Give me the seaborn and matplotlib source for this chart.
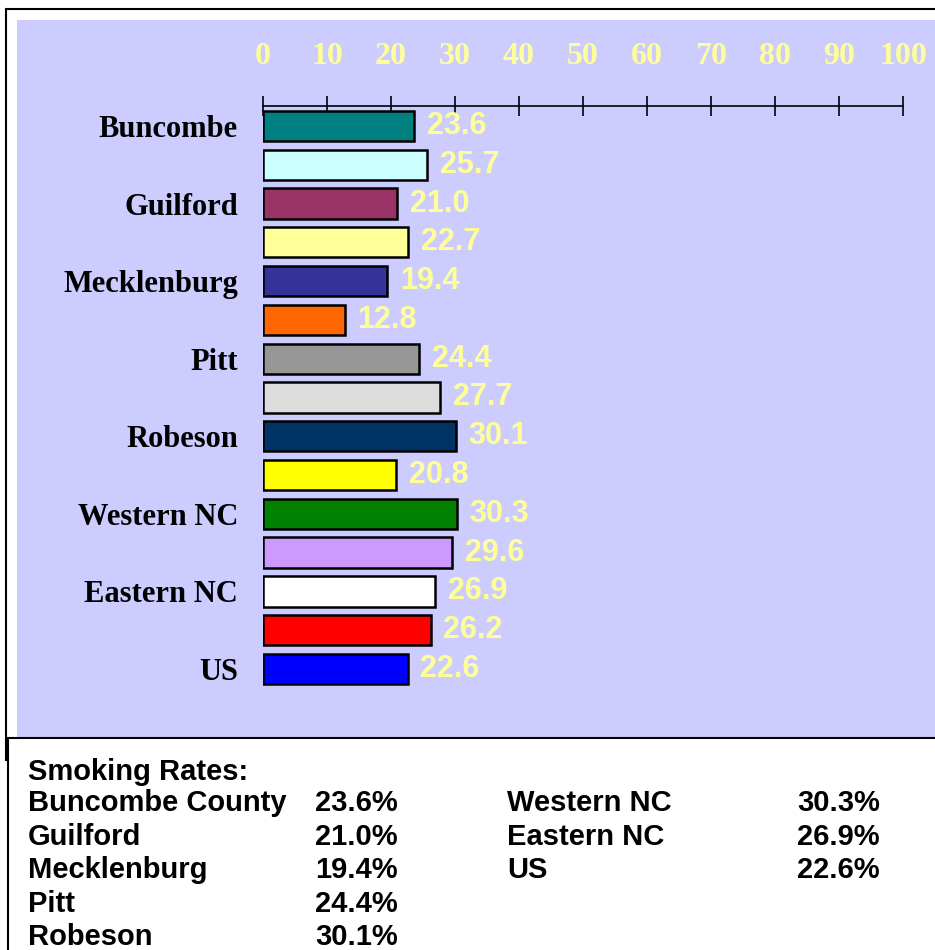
import matplotlib
matplotlib.use("Agg")
import matplotlib.pyplot as plt
import seaborn as sns
from matplotlib.patches import Rectangle

# bar data (top to bottom)
bar_ids = ['b01', 'b02', 'b03', 'b04', 'b05', 'b06', 'b07', 'b08',
           'b09', 'b10', 'b11', 'b12', 'b13', 'b14', 'b15']
rates = [23.6, 25.7, 21.0, 22.7, 19.4, 12.8, 24.4, 27.7,
         30.1, 20.8, 30.3, 29.6, 26.9, 26.2, 22.6]
tick_labels = ['Buncombe', '', 'Guilford', '', 'Mecklenburg', '', 'Pitt', '',
               'Robeson', '', 'Western NC', '', 'Eastern NC', '', 'US']
bar_colors = ['#008080', '#CCFFFF', '#993366', '#FFFF99', '#333399', '#FF6600',
              '#969696', '#DDDDDD', '#003366', '#FFFF00', '#008000', '#CC99FF',
              '#FFFFFF', '#FF0000', '#0000FF']
x_ticks = [0, 10, 20, 30, 40, 50, 60, 70, 80, 90, 100]

# summary table below the chart
left_names = ['Buncombe County', 'Guilford', 'Mecklenburg', 'Pitt', 'Robeson']
left_vals = ['23.6%', '21.0%', '19.4%', '24.4%', '30.1%']
right_names = ['Western NC', 'Eastern NC', 'US']
right_vals = ['30.3%', '26.9%', '22.6%']

sns.set_style('white')
plt.rcParams['font.family'] = ['Liberation Sans', 'DejaVu Sans']

W, H = 935, 950
fig = plt.figure(figsize=(W / 100, H / 100), dpi=100)
fig.patch.set_facecolor('white')

def px_rect(x0, y0, x1, y1, **kw):
    r = Rectangle((x0 / W, 1 - y1 / H), (x1 - x0) / W, (y1 - y0) / H,
                  transform=fig.transFigure, **kw)
    fig.patches.append(r)

# outer frame, plot area, text box
px_rect(6, 9, 945, 760, facecolor='white', edgecolor='black', linewidth=1.5, zorder=0)
px_rect(17, 20, 945, 738, facecolor='#CCCCFF', edgecolor='none', zorder=1)
px_rect(8, 738, 945, 965, facecolor='white', edgecolor='black', linewidth=1.5, zorder=2)

ax = fig.add_axes([263 / W, 1 - 700 / H, 640 / W, 594 / H])
ax.set_facecolor('none')
ax.set_zorder(4)

sns.barplot(x=rates, y=bar_ids, hue=bar_ids, palette=bar_colors, legend=False,
            orient='h', edgecolor='black', linewidth=1.8, width=0.78,
            saturation=1, ax=ax)

for c in ax.containers:
    ax.bar_label(c, fmt='%.1f', padding=9, color='#FFFF99',
                 fontsize=22, fontweight='bold', family='Liberation Sans')

ax.set_xlim(0, 100)
ax.set_ylim(14.8, -0.516)
ax.set_xlabel('')
ax.set_ylabel('')

ax.xaxis.tick_top()
ax.set_xticks(x_ticks)
ax.set_xticklabels([str(t) for t in x_ticks])
ax.tick_params(axis='x', which='major', direction='inout', length=14.4,
               width=1.2, color='black', pad=18, labelsize=23,
               labelcolor='#FFFF99', top=True, bottom=False)
for lab in ax.get_xticklabels():
    lab.set_family('Liberation Serif')
    lab.set_fontweight('bold')

ax.set_yticks(range(len(bar_ids)))
ax.set_yticklabels(tick_labels)
ax.tick_params(axis='y', length=0, pad=18, labelsize=22, labelcolor='black')
for lab in ax.get_yticklabels():
    lab.set_family('Liberation Serif')
    lab.set_fontweight('bold')

for side in ['bottom', 'left', 'right']:
    ax.spines[side].set_visible(False)
ax.spines['top'].set_visible(True)
ax.spines['top'].set_color('black')
ax.spines['top'].set_linewidth(1.2)

# text under the chart
txt = dict(fontsize=21, fontweight='bold', color='black', va='center',
           family='Liberation Sans', zorder=5)
fig.text(28 / W, 1 - 772 / H, 'Smoking Rates:', **txt)
row_y = [803, 837, 870, 904, 937]
for i in range(len(left_names)):
    fig.text(28 / W, 1 - row_y[i] / H, left_names[i], **txt)
    fig.text(315 / W, 1 - row_y[i] / H, left_vals[i], **txt)
for i in range(len(right_names)):
    fig.text(507 / W, 1 - row_y[i] / H, right_names[i], **txt)
    fig.text(797 / W, 1 - row_y[i] / H, right_vals[i], **txt)

fig.savefig('out.png', dpi=100, facecolor=fig.get_facecolor())
